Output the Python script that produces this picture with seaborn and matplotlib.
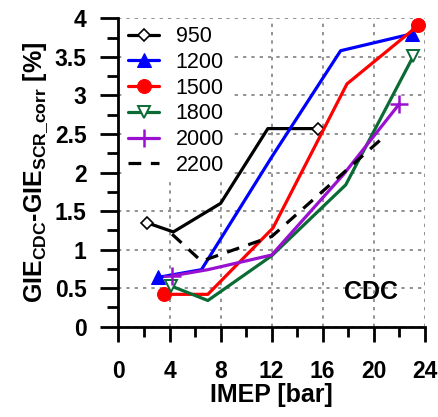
import matplotlib
matplotlib.use("Agg")
import matplotlib.pyplot as plt
import seaborn as sns
import numpy as np
from matplotlib.ticker import MultipleLocator

# data
x950 = [2.2, 4.3, 8.0, 11.7, 15.6]
y950 = [1.35, 1.23, 1.60, 2.57, 2.57]
x1200 = [3.1, 6.5, 12.0, 17.4, 23.0]
y1200 = [0.64, 0.74, 2.20, 3.58, 3.80]
x1500 = [3.6, 7.0, 12.1, 17.9, 23.5]
y1500 = [0.42, 0.42, 1.28, 3.15, 3.91]
x1800 = [4.1, 7.0, 12.0, 17.8, 23.1]
y1800 = [0.53, 0.34, 0.92, 1.84, 3.51]
x2000 = [4.2, 7.0, 12.0, 17.6, 22.0]
y2000 = [0.66, 0.74, 0.93, 1.97, 2.89]
x2200 = [4.2, 6.5, 12.0, 20.5]
y2200 = [1.20, 0.85, 1.17, 2.42]
labels = ["950", "1200", "1500", "1800", "2000", "2200"]
yticks = [0, 0.5, 1, 1.5, 2, 2.5, 3, 3.5, 4]
yticklabels = ['0', '0.5', '1', '1.5', '2', '2.5', '3', '3.5', '4']

sns.set_style("white")
plt.rcParams['font.family'] = ['Liberation Sans', 'DejaVu Sans']
plt.rcParams['mathtext.fontset'] = 'custom'
plt.rcParams['mathtext.rm'] = 'Liberation Sans:bold'
plt.rcParams['mathtext.it'] = 'Liberation Sans:bold'
plt.rcParams['mathtext.bf'] = 'Liberation Sans:bold'
plt.rcParams['text.color'] = 'black'
plt.rcParams['axes.labelcolor'] = 'black'
plt.rcParams['xtick.color'] = 'black'
plt.rcParams['ytick.color'] = 'black'

fig = plt.figure(figsize=(4.38, 4.17), dpi=100)
ax = fig.add_axes([0.2705, 0.2165, 0.6995, 0.7395])

lw = 2.3
green = '#0a6b35'
purple = '#9a10d0'
series = [
    (x950, y950, labels[0], dict(color='black', marker='D', markersize=6.5, markerfacecolor='white', markeredgecolor='black', markeredgewidth=1.2)),
    (x1200, y1200, labels[1], dict(color='#0000ff', marker='^', markersize=10, markeredgecolor='#0000ff')),
    (x1500, y1500, labels[2], dict(color='#ff0000', marker='o', markersize=10, markeredgecolor='#ff0000')),
    (x1800, y1800, labels[3], dict(color=green, marker='v', markersize=9, markerfacecolor='white', markeredgecolor=green, markeredgewidth=1.4)),
    (x2000, y2000, labels[4], dict(color=purple, marker='+', markersize=13, markeredgecolor=purple, markeredgewidth=1.8)),
]
for xs, ys, lab, kw in series:
    sns.lineplot(x=xs, y=ys, ax=ax, label=lab, sort=False, linewidth=lw,
                 markevery=[0, len(xs) - 1], **kw)
sns.lineplot(x=x2200, y=y2200, ax=ax, label=labels[5], sort=False, linewidth=lw,
             color='black', linestyle=(0, (4, 3)))

ax.set_xlim(0, 24)
ax.set_ylim(0, 4)
ax.xaxis.set_major_locator(MultipleLocator(4))
ax.xaxis.set_minor_locator(MultipleLocator(2))
ax.yaxis.set_minor_locator(MultipleLocator(0.25))
ax.set_yticks(yticks)
ax.set_yticklabels(yticklabels)

ax.grid(True, which='major', color='#808080', linestyle=(0, (2, 3)), linewidth=1.2)
ax.set_axisbelow(True)
for s in ['top', 'right']:
    ax.spines[s].set_visible(False)
for s in ['left', 'bottom']:
    ax.spines[s].set_linewidth(2)
    ax.spines[s].set_color('black')

ax.tick_params(which='both', bottom=True, left=True, top=False, right=False, direction='out', colors='black', width=2)
ax.tick_params(axis='y', which='major', length=13, labelsize=16.5, pad=10)
ax.tick_params(axis='y', which='minor', length=8)
ax.tick_params(axis='x', which='major', length=11, labelsize=16.5, pad=13)
ax.tick_params(axis='x', which='minor', length=7)
for t in ax.get_xticklabels() + ax.get_yticklabels():
    t.set_fontweight('bold')

ax.set_xlabel('IMEP [bar]', fontsize=18, fontweight='bold', labelpad=0, color='black')
ax.set_ylabel(r'GIE$_{\mathrm{CDC}}$-GIE$_{\mathrm{SCR\_corr}}$ [%]', fontsize=18, fontweight='bold', labelpad=3, color='black')

ax.text(19.8, 0.45, 'CDC', fontsize=18, fontweight='bold', ha='center', va='center', color='black')

leg = ax.legend(loc='upper left', bbox_to_anchor=(0.015, 0.992), frameon=True,
                fontsize=15.5, handlelength=1.4,
                handletextpad=0.8, labelspacing=0.22, borderaxespad=0.0,
                borderpad=0.25, labelcolor='black')
leg.get_frame().set_edgecolor('white')
leg.get_frame().set_facecolor('white')
leg.get_frame().set_alpha(1.0)

fig.savefig('out.png', dpi=100)
